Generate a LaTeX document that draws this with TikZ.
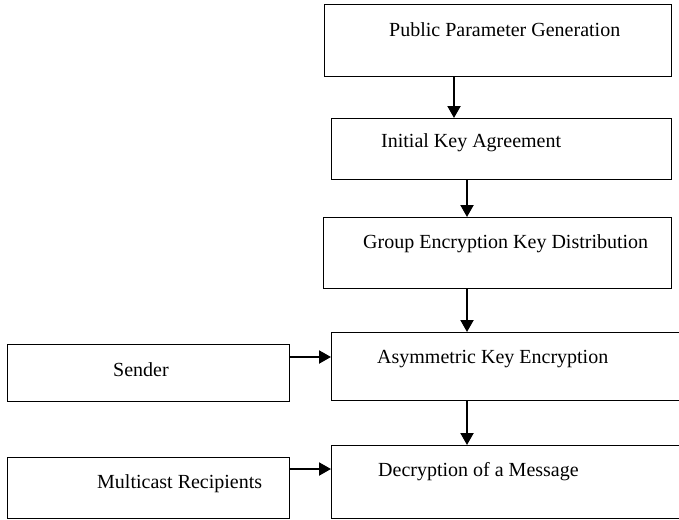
\documentclass[tikz,border=0pt]{standalone}
\usepackage{fontspec}
\setmainfont{Liberation Serif}
\usetikzlibrary{arrows.meta}
\begin{document}
\begin{tikzpicture}[x=1pt,y=-1pt,
  box/.style={draw,line width=1.4pt,inner sep=0pt},
  lbl/.style={anchor=base west,inner sep=0pt,font=\fontsize{20}{24}\selectfont},
  arr/.style={line width=2pt,-{Triangle[length=12pt,width=13pt]}}]
\useasboundingbox (0,0) rectangle (679,519);
% process boxes
\node[box,minimum width=347pt,minimum height=72pt,anchor=north west] (b1) at (324,4) {};
\node[box,minimum width=340pt,minimum height=61pt,anchor=north west] (b2) at (331,118) {};
\node[box,minimum width=348pt,minimum height=71pt,anchor=north west] (b3) at (323,217) {};
\node[box,minimum width=380pt,minimum height=68pt,anchor=north west] (b4) at (331,332) {};
\node[box,minimum width=380pt,minimum height=73pt,anchor=north west] (b5) at (331,445) {};
\node[box,minimum width=282pt,minimum height=57pt,anchor=north west] (snd) at (7,344) {};
\node[box,minimum width=282pt,minimum height=61pt,anchor=north west] (rcp) at (7,457) {};
% labels
\node[lbl] (t1) at (389,37) {Public Parameter Generation};
\node[lbl] (t2) at (381,147) {Initial Key Agreement};
\node[lbl] (t3) at (363,248) {Group Encryption Key Distribution};
\node[lbl] (t4) at (377,363) {Asymmetric Key Encryption};
\node[lbl] (t5) at (378,476) {Decryption of a Message};
\node[lbl] (ts) at (113,376) {Sender};
\node[lbl] (tr) at (97,488) {Multicast Recipients};
% flow
\draw[arr] ([xshift=130pt]b1.south west) -- ([xshift=130pt]b1.south west |- b2.north);
\draw[arr] ([xshift=136pt]b2.south west) -- ([xshift=136pt]b2.south west |- b3.north);
\draw[arr] ([xshift=144pt]b3.south west) -- ([xshift=144pt]b3.south west |- b4.north);
\draw[arr] ([xshift=136pt]b4.south west) -- ([xshift=136pt]b4.south west |- b5.north);
\draw[arr] ([yshift=-13pt]snd.north east) -- ([yshift=-13pt]snd.north east -| b4.west);
\draw[arr] ([yshift=-12pt]rcp.north east) -- ([yshift=-12pt]rcp.north east -| b5.west);
\end{tikzpicture}
\end{document}
